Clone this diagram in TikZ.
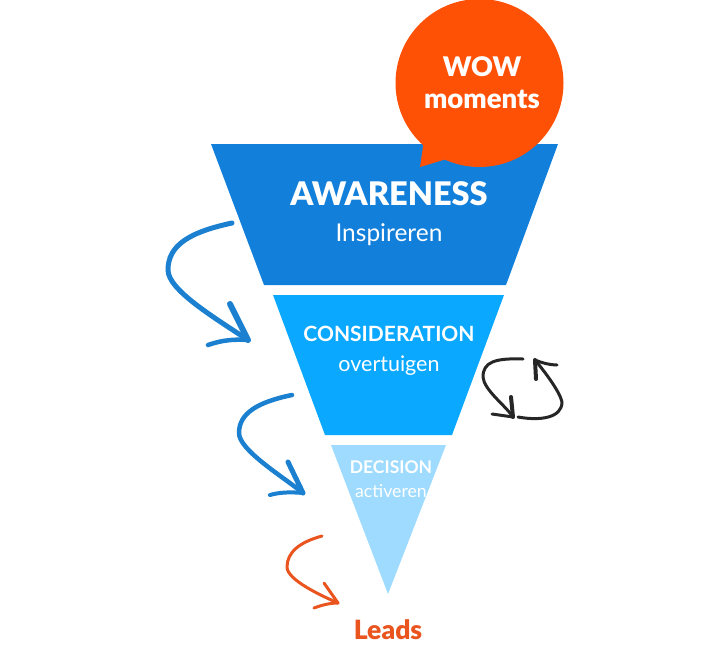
\documentclass[tikz,border=0pt]{standalone}
\usepackage{fontspec}
\setmainfont{Lato}
\newfontfamily\heavyfont{Lato Black}
\definecolor{awarenessblue}{HTML}{127FDA}
\definecolor{considerblue}{HTML}{0AA8FF}
\definecolor{decisionblue}{HTML}{9EDBFF}
\definecolor{wowred}{HTML}{FF5106}
\definecolor{leadsred}{HTML}{E9541F}
\definecolor{penblue}{HTML}{1A80CF}
\tikzset{
	funneltext/.style={text=white, inner sep=0pt},
	pen/.style={line cap=round, line join=round, line width=#1},
}

\begin{document}
\begin{tikzpicture}[x=1pt, y=-1pt]
	\useasboundingbox (0, 0) rectangle (722, 667);
	
	\fill[awarenessblue] (211, 144) -- (558, 144) -- (506, 285) -- (264, 285) -- cycle;
	\fill[considerblue] (273, 295) -- (504, 295) -- (452, 435) -- (325, 435) -- cycle;
	\fill[decisionblue] (331, 445) -- (446, 445) -- (388, 594) -- cycle;
	
	\fill[wowred] (479.5, 83) circle (84);
	\fill[wowred] (420, 167) -- (424, 140) -- (450, 158) -- cycle;
	
	\node[funneltext, font=\heavyfont\fontsize{27}{30}\selectfont] (wow) at (482, 67) {WOW};
	\node[funneltext, font=\heavyfont\fontsize{27.5}{28}\selectfont] (moments) at (482, 99) {moments};
	\node[funneltext, font=\heavyfont\fontsize{32.5}{36}\selectfont] (awareness) at (389, 194) {AWARENESS};
	\node[funneltext, font=\fontsize{24.5}{26}\selectfont] (inspireren) at (389, 235) {Inspireren};
	\node[funneltext, font=\bfseries\fontsize{21}{24}\selectfont] (consideration) at (389, 334) {CONSIDERATION};
	\node[funneltext, font=\fontsize{21.5}{24}\selectfont] (overtuigen) at (389, 366) {overtuigen};
	\node[funneltext, font=\bfseries\fontsize{17.5}{20}\selectfont] (decision) at (391, 467) {DECISION};
	\node[funneltext, font=\fontsize{17.7}{20}\selectfont] (activeren) at (391, 491) {activeren};
	\node[text=leadsred, inner sep=0pt, font=\heavyfont\fontsize{26.5}{26}\selectfont] (leads) at (388, 630) {Leads};
	
	% hand drawn arrows
	\coordinate (awstart) at (232, 223);
	\coordinate (awtip) at (248, 340);
	\draw[pen=5pt, penblue] (awstart) .. controls (190, 232) and (168, 245) .. (168, 270)
		.. controls (168, 290) and (215, 318) .. (awtip);
	\draw[pen=6pt, penblue] (230, 304) -- (awtip);
	\draw[pen=4.5pt, penblue] (208, 345) .. controls (222, 340) and (235, 339) .. (awtip);
	
	\coordinate (costart) at (292, 395);
	\coordinate (cotip) at (303, 493);
	\draw[pen=4.5pt, penblue] (costart) .. controls (258, 402) and (239, 413) .. (239, 433)
		.. controls (239, 450) and (282, 476) .. (cotip);
	\draw[pen=5pt, penblue] (288, 462) -- (cotip);
	\draw[pen=4pt, penblue] (270, 495) .. controls (280, 492) and (292, 492) .. (cotip);
	
	\coordinate (destart) at (322, 536);
	\coordinate (detip) at (338, 603);
	\draw[pen=3pt, leadsred] (destart) .. controls (300, 542) and (287, 552) .. (287, 567)
		.. controls (287, 580) and (322, 596) .. (detip);
	\draw[pen=3pt, leadsred] (324, 583) -- (detip);
	\draw[pen=3pt, leadsred] (314, 608) .. controls (322, 605) and (330, 603) .. (detip);
	
	\coordinate (loopa) at (523, 359);
	\coordinate (loopb) at (513, 417);
	\coordinate (loopc) at (518, 417);
	\coordinate (loopd) at (535, 360);
	\draw[pen=3pt, black!85] (loopa) .. controls (495, 358) and (483, 362) .. (483, 377)
		.. controls (484, 390) and (505, 405) .. (loopb);
	\draw[pen=4pt, black!85] (511, 397) -- (loopb);
	\draw[pen=3pt, black!85] (492, 414) -- (loopb);
	\draw[pen=3pt, black!85] (loopc) .. controls (540, 421) and (562, 418) .. (562, 402)
		.. controls (560, 392) and (545, 372) .. (loopd);
	\draw[pen=4pt, black!85] (536, 379) -- (loopd);
	\draw[pen=3pt, black!85] (557, 365) .. controls (550, 365) and (542, 363) .. (loopd);
\end{tikzpicture}
\end{document}
